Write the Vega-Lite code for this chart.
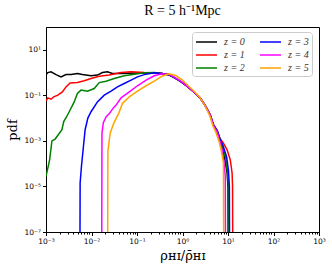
{
  "$schema": "https://vega.github.io/schema/vega-lite/v6.json",
  "autosize": {"type": "none"},
  "padding": {"left": 46, "top": 27, "right": 13, "bottom": 38},
  "width": 273,
  "height": 205,
  "background": "white",
  "title": {"text": "R = 5 h⁻¹Mpc", "font": "Liberation Serif", "fontSize": 14, "fontWeight": "normal", "color": "black", "anchor": "middle", "offset": 9},
  "config": {
    "view": {"stroke": "black", "strokeWidth": 1},
    "axis": {"grid": false, "domainColor": "black", "tickColor": "black", "labelColor": "black", "labelFont": "DejaVu Sans", "labelFontSize": 7.5, "titleColor": "black", "titleFontWeight": "normal", "labelFlush": false, "labelOverlap": false}
  },
  "datasets": {
    "curves": [
      {"z": "z = 0", "lx": -3.0, "ly": -0.1}, {"z": "z = 0", "lx": -2.96, "ly": 0.0}, {"z": "z = 0", "lx": -2.89, "ly": 0.03}, {"z": "z = 0", "lx": -2.78, "ly": -0.09}, {"z": "z = 0", "lx": -2.67, "ly": -0.19}, {"z": "z = 0", "lx": -2.56, "ly": -0.09}, {"z": "z = 0", "lx": -2.45, "ly": -0.09}, {"z": "z = 0", "lx": -2.31, "ly": -0.04}, {"z": "z = 0", "lx": -2.2, "ly": -0.09}, {"z": "z = 0", "lx": -2.01, "ly": -0.14}, {"z": "z = 0", "lx": -1.87, "ly": -0.11}, {"z": "z = 0", "lx": -1.76, "ly": 0.0}, {"z": "z = 0", "lx": -1.65, "ly": 0.03}, {"z": "z = 0", "lx": -1.54, "ly": -0.04}, {"z": "z = 0", "lx": -1.35, "ly": -0.04}, {"z": "z = 0", "lx": -1.2, "ly": -0.03}, {"z": "z = 0", "lx": -1.0, "ly": -0.02}, {"z": "z = 0", "lx": -0.8, "ly": -0.01}, {"z": "z = 0", "lx": -0.6, "ly": -0.02}, {"z": "z = 0", "lx": -0.45, "ly": -0.04}, {"z": "z = 0", "lx": -0.3, "ly": -0.1}, {"z": "z = 0", "lx": -0.2, "ly": -0.2}, {"z": "z = 0", "lx": -0.05, "ly": -0.38}, {"z": "z = 0", "lx": 0.1, "ly": -0.6}, {"z": "z = 0", "lx": 0.25, "ly": -0.85}, {"z": "z = 0", "lx": 0.39, "ly": -1.12}, {"z": "z = 0", "lx": 0.5, "ly": -1.45}, {"z": "z = 0", "lx": 0.61, "ly": -1.86}, {"z": "z = 0", "lx": 0.68, "ly": -2.3}, {"z": "z = 0", "lx": 0.76, "ly": -2.55}, {"z": "z = 0", "lx": 0.82, "ly": -2.9}, {"z": "z = 0", "lx": 0.88, "ly": -3.3}, {"z": "z = 0", "lx": 0.93, "ly": -3.8}, {"z": "z = 0", "lx": 0.98, "ly": -4.4}, {"z": "z = 0", "lx": 1.0, "ly": -5.0}, {"z": "z = 0", "lx": 1.01, "ly": -12},

      {"z": "z = 1", "lx": -3.0, "ly": -1.25}, {"z": "z = 1", "lx": -2.96, "ly": -1.11}, {"z": "z = 1", "lx": -2.89, "ly": -1.17}, {"z": "z = 1", "lx": -2.83, "ly": -1.07}, {"z": "z = 1", "lx": -2.74, "ly": -0.99}, {"z": "z = 1", "lx": -2.64, "ly": -0.85}, {"z": "z = 1", "lx": -2.56, "ly": -0.63}, {"z": "z = 1", "lx": -2.47, "ly": -0.46}, {"z": "z = 1", "lx": -2.31, "ly": -0.44}, {"z": "z = 1", "lx": -2.16, "ly": -0.36}, {"z": "z = 1", "lx": -2.01, "ly": -0.26}, {"z": "z = 1", "lx": -1.83, "ly": -0.16}, {"z": "z = 1", "lx": -1.61, "ly": -0.11}, {"z": "z = 1", "lx": -1.35, "ly": 0.0}, {"z": "z = 1", "lx": -1.13, "ly": 0.03}, {"z": "z = 1", "lx": -0.84, "ly": 0.0}, {"z": "z = 1", "lx": -0.6, "ly": -0.01}, {"z": "z = 1", "lx": -0.45, "ly": -0.04}, {"z": "z = 1", "lx": -0.3, "ly": -0.1}, {"z": "z = 1", "lx": -0.2, "ly": -0.2}, {"z": "z = 1", "lx": -0.05, "ly": -0.38}, {"z": "z = 1", "lx": 0.1, "ly": -0.6}, {"z": "z = 1", "lx": 0.25, "ly": -0.85}, {"z": "z = 1", "lx": 0.39, "ly": -1.12}, {"z": "z = 1", "lx": 0.5, "ly": -1.45}, {"z": "z = 1", "lx": 0.61, "ly": -1.86}, {"z": "z = 1", "lx": 0.68, "ly": -2.3}, {"z": "z = 1", "lx": 0.76, "ly": -2.55}, {"z": "z = 1", "lx": 0.82, "ly": -2.88}, {"z": "z = 1", "lx": 0.9, "ly": -3.1}, {"z": "z = 1", "lx": 0.98, "ly": -3.39}, {"z": "z = 1", "lx": 1.05, "ly": -3.83}, {"z": "z = 1", "lx": 1.09, "ly": -4.41}, {"z": "z = 1", "lx": 1.1, "ly": -5.0}, {"z": "z = 1", "lx": 1.11, "ly": -12},

      {"z": "z = 2", "lx": -3.0, "ly": -4.56}, {"z": "z = 2", "lx": -2.92, "ly": -3.83}, {"z": "z = 2", "lx": -2.87, "ly": -3.0}, {"z": "z = 2", "lx": -2.8, "ly": -2.92}, {"z": "z = 2", "lx": -2.73, "ly": -2.73}, {"z": "z = 2", "lx": -2.65, "ly": -2.51}, {"z": "z = 2", "lx": -2.61, "ly": -2.15}, {"z": "z = 2", "lx": -2.55, "ly": -1.95}, {"z": "z = 2", "lx": -2.49, "ly": -1.72}, {"z": "z = 2", "lx": -2.38, "ly": -1.29}, {"z": "z = 2", "lx": -2.31, "ly": -0.92}, {"z": "z = 2", "lx": -2.23, "ly": -0.77}, {"z": "z = 2", "lx": -2.09, "ly": -0.82}, {"z": "z = 2", "lx": -1.94, "ly": -0.7}, {"z": "z = 2", "lx": -1.83, "ly": -0.44}, {"z": "z = 2", "lx": -1.68, "ly": -0.38}, {"z": "z = 2", "lx": -1.5, "ly": -0.26}, {"z": "z = 2", "lx": -1.28, "ly": -0.14}, {"z": "z = 2", "lx": -1.06, "ly": -0.07}, {"z": "z = 2", "lx": -0.84, "ly": -0.01}, {"z": "z = 2", "lx": -0.62, "ly": 0.0}, {"z": "z = 2", "lx": -0.45, "ly": -0.04}, {"z": "z = 2", "lx": -0.3, "ly": -0.1}, {"z": "z = 2", "lx": -0.2, "ly": -0.2}, {"z": "z = 2", "lx": -0.05, "ly": -0.38}, {"z": "z = 2", "lx": 0.1, "ly": -0.6}, {"z": "z = 2", "lx": 0.25, "ly": -0.85}, {"z": "z = 2", "lx": 0.39, "ly": -1.12}, {"z": "z = 2", "lx": 0.5, "ly": -1.45}, {"z": "z = 2", "lx": 0.61, "ly": -1.86}, {"z": "z = 2", "lx": 0.68, "ly": -2.3}, {"z": "z = 2", "lx": 0.76, "ly": -2.55}, {"z": "z = 2", "lx": 0.82, "ly": -2.9}, {"z": "z = 2", "lx": 0.88, "ly": -3.25}, {"z": "z = 2", "lx": 0.95, "ly": -3.75}, {"z": "z = 2", "lx": 0.99, "ly": -4.4}, {"z": "z = 2", "lx": 1.01, "ly": -5.0}, {"z": "z = 2", "lx": 1.02, "ly": -12},

      {"z": "z = 3", "lx": -2.26, "ly": -12}, {"z": "z = 3", "lx": -2.25, "ly": -4.85}, {"z": "z = 3", "lx": -2.22, "ly": -4.1}, {"z": "z = 3", "lx": -2.18, "ly": -3.3}, {"z": "z = 3", "lx": -2.14, "ly": -2.51}, {"z": "z = 3", "lx": -2.08, "ly": -2.0}, {"z": "z = 3", "lx": -2.01, "ly": -1.72}, {"z": "z = 3", "lx": -1.87, "ly": -1.29}, {"z": "z = 3", "lx": -1.72, "ly": -0.99}, {"z": "z = 3", "lx": -1.57, "ly": -0.82}, {"z": "z = 3", "lx": -1.43, "ly": -0.63}, {"z": "z = 3", "lx": -1.28, "ly": -0.48}, {"z": "z = 3", "lx": -1.13, "ly": -0.33}, {"z": "z = 3", "lx": -0.99, "ly": -0.19}, {"z": "z = 3", "lx": -0.84, "ly": -0.09}, {"z": "z = 3", "lx": -0.62, "ly": -0.01}, {"z": "z = 3", "lx": -0.45, "ly": -0.04}, {"z": "z = 3", "lx": -0.3, "ly": -0.1}, {"z": "z = 3", "lx": -0.2, "ly": -0.2}, {"z": "z = 3", "lx": -0.05, "ly": -0.38}, {"z": "z = 3", "lx": 0.1, "ly": -0.6}, {"z": "z = 3", "lx": 0.25, "ly": -0.85}, {"z": "z = 3", "lx": 0.39, "ly": -1.12}, {"z": "z = 3", "lx": 0.5, "ly": -1.45}, {"z": "z = 3", "lx": 0.61, "ly": -1.86}, {"z": "z = 3", "lx": 0.68, "ly": -2.3}, {"z": "z = 3", "lx": 0.76, "ly": -2.55}, {"z": "z = 3", "lx": 0.82, "ly": -2.9}, {"z": "z = 3", "lx": 0.89, "ly": -3.2}, {"z": "z = 3", "lx": 0.97, "ly": -3.7}, {"z": "z = 3", "lx": 1.01, "ly": -4.3}, {"z": "z = 3", "lx": 1.03, "ly": -5.0}, {"z": "z = 3", "lx": 1.04, "ly": -12},

      {"z": "z = 4", "lx": -1.78, "ly": -12}, {"z": "z = 4", "lx": -1.77, "ly": -2.66}, {"z": "z = 4", "lx": -1.74, "ly": -2.2}, {"z": "z = 4", "lx": -1.68, "ly": -1.95}, {"z": "z = 4", "lx": -1.6, "ly": -1.78}, {"z": "z = 4", "lx": -1.52, "ly": -1.55}, {"z": "z = 4", "lx": -1.46, "ly": -1.43}, {"z": "z = 4", "lx": -1.35, "ly": -1.11}, {"z": "z = 4", "lx": -1.17, "ly": -0.85}, {"z": "z = 4", "lx": -0.99, "ly": -0.58}, {"z": "z = 4", "lx": -0.8, "ly": -0.33}, {"z": "z = 4", "lx": -0.62, "ly": -0.14}, {"z": "z = 4", "lx": -0.45, "ly": -0.05}, {"z": "z = 4", "lx": -0.3, "ly": -0.08}, {"z": "z = 4", "lx": -0.2, "ly": -0.18}, {"z": "z = 4", "lx": -0.05, "ly": -0.37}, {"z": "z = 4", "lx": 0.1, "ly": -0.6}, {"z": "z = 4", "lx": 0.25, "ly": -0.85}, {"z": "z = 4", "lx": 0.39, "ly": -1.12}, {"z": "z = 4", "lx": 0.5, "ly": -1.45}, {"z": "z = 4", "lx": 0.61, "ly": -1.87}, {"z": "z = 4", "lx": 0.68, "ly": -2.32}, {"z": "z = 4", "lx": 0.76, "ly": -2.6}, {"z": "z = 4", "lx": 0.81, "ly": -2.95}, {"z": "z = 4", "lx": 0.86, "ly": -3.3}, {"z": "z = 4", "lx": 0.91, "ly": -3.9}, {"z": "z = 4", "lx": 0.94, "ly": -4.56}, {"z": "z = 4", "lx": 0.95, "ly": -12},

      {"z": "z = 5", "lx": -1.65, "ly": -12}, {"z": "z = 5", "lx": -1.64, "ly": -3.46}, {"z": "z = 5", "lx": -1.59, "ly": -2.66}, {"z": "z = 5", "lx": -1.51, "ly": -2.22}, {"z": "z = 5", "lx": -1.4, "ly": -1.78}, {"z": "z = 5", "lx": -1.32, "ly": -1.36}, {"z": "z = 5", "lx": -1.17, "ly": -1.07}, {"z": "z = 5", "lx": -0.99, "ly": -0.82}, {"z": "z = 5", "lx": -0.8, "ly": -0.58}, {"z": "z = 5", "lx": -0.62, "ly": -0.38}, {"z": "z = 5", "lx": -0.45, "ly": -0.16}, {"z": "z = 5", "lx": -0.3, "ly": -0.05}, {"z": "z = 5", "lx": -0.15, "ly": -0.13}, {"z": "z = 5", "lx": 0.0, "ly": -0.33}, {"z": "z = 5", "lx": 0.12, "ly": -0.57}, {"z": "z = 5", "lx": 0.26, "ly": -0.83}, {"z": "z = 5", "lx": 0.39, "ly": -1.12}, {"z": "z = 5", "lx": 0.5, "ly": -1.47}, {"z": "z = 5", "lx": 0.6, "ly": -1.9}, {"z": "z = 5", "lx": 0.67, "ly": -2.35}, {"z": "z = 5", "lx": 0.74, "ly": -2.65}, {"z": "z = 5", "lx": 0.8, "ly": -3.0}, {"z": "z = 5", "lx": 0.85, "ly": -3.4}, {"z": "z = 5", "lx": 0.9, "ly": -3.97}, {"z": "z = 5", "lx": 0.91, "ly": -12}
    ]
  },
  "encoding": {
    "x": {
      "field": "lx", "type": "quantitative",
      "scale": {"domain": [-3, 3], "nice": false, "zero": false},
      "axis": {
        "title": "ρʜɪ/ρ̄ʜɪ", "titleFont": "DejaVu Serif", "titleFontSize": 13, "titlePadding": 4,
        "values": [-3, -2.699, -2.523, -2.398, -2.301, -2.222, -2.155, -2.097, -2.046, -2, -1.699, -1.523, -1.398, -1.301, -1.222, -1.155, -1.097, -1.046, -1, -0.699, -0.523, -0.398, -0.301, -0.222, -0.155, -0.097, -0.046, 0, 0.301, 0.477, 0.602, 0.699, 0.778, 0.845, 0.903, 0.954, 1, 1.301, 1.477, 1.602, 1.699, 1.778, 1.845, 1.903, 1.954, 2, 2.301, 2.477, 2.602, 2.699, 2.778, 2.845, 2.903, 2.954, 3],
        "labelExpr": "datum.value == round(datum.value) ? '10' + replace(replace(replace(replace(replace(toString(datum.value), '-', '⁻'), '0', '⁰'), '1', '¹'), '2', '²'), '3', '³') : ''",
        "tickSize": {"condition": {"test": "datum.value == round(datum.value)", "value": 3.5}, "value": 2},
        "labelPadding": 2
      }
    },
    "y": {
      "field": "ly", "type": "quantitative",
      "scale": {"domain": [-7, 2], "nice": false, "zero": false},
      "axis": {
        "title": "pdf", "titleFont": "DejaVu Serif", "titleFontSize": 13, "titlePadding": 4,
        "values": [-7, -5, -3, -1, 1],
        "labelExpr": "'10' + replace(replace(replace(replace(replace(replace(toString(datum.value), '-', '⁻'), '1', '¹'), '3', '³'), '5', '⁵'), '7', '⁷'), '0', '⁰')",
        "tickSize": 3.5,
        "labelPadding": 2
      }
    },
    "color": {
      "field": "z", "type": "nominal",
      "scale": {"domain": ["z = 0", "z = 1", "z = 2", "z = 3", "z = 4", "z = 5"], "range": ["#000000", "#ff0000", "#008000", "#0000ff", "#ff00ff", "#ffa500"]},
      "legend": {
        "title": null, "orient": "none", "legendX": 146, "legendY": 5, "columns": 2,
        "symbolType": "M-1,0H2.5", "symbolSize": 144, "symbolStrokeWidth": 1.5, "symbolFillColor": "transparent",
        "labelFont": "Liberation Serif", "labelFontStyle": "italic", "labelFontSize": 10, "labelColor": "#333333",
        "fillColor": "white", "strokeColor": "#cccccc", "cornerRadius": 3, "padding": 3,
        "columnPadding": 12, "rowPadding": 1, "labelOffset": 15
      }
    }
  },
  "layer": [
    {"transform": [{"filter": "datum.z == 'z = 0'"}], "data": {"name": "curves"}, "mark": {"type": "line", "strokeWidth": 1.5, "clip": true}},
    {"transform": [{"filter": "datum.z == 'z = 1'"}], "data": {"name": "curves"}, "mark": {"type": "line", "strokeWidth": 1.5, "clip": true}},
    {"transform": [{"filter": "datum.z == 'z = 2'"}], "data": {"name": "curves"}, "mark": {"type": "line", "strokeWidth": 1.5, "clip": true}},
    {"transform": [{"filter": "datum.z == 'z = 3'"}], "data": {"name": "curves"}, "mark": {"type": "line", "strokeWidth": 1.5, "clip": true}},
    {"transform": [{"filter": "datum.z == 'z = 4'"}], "data": {"name": "curves"}, "mark": {"type": "line", "strokeWidth": 1.5, "clip": true}},
    {"transform": [{"filter": "datum.z == 'z = 5'"}], "data": {"name": "curves"}, "mark": {"type": "line", "strokeWidth": 1.5, "clip": true}}
  ]
}
